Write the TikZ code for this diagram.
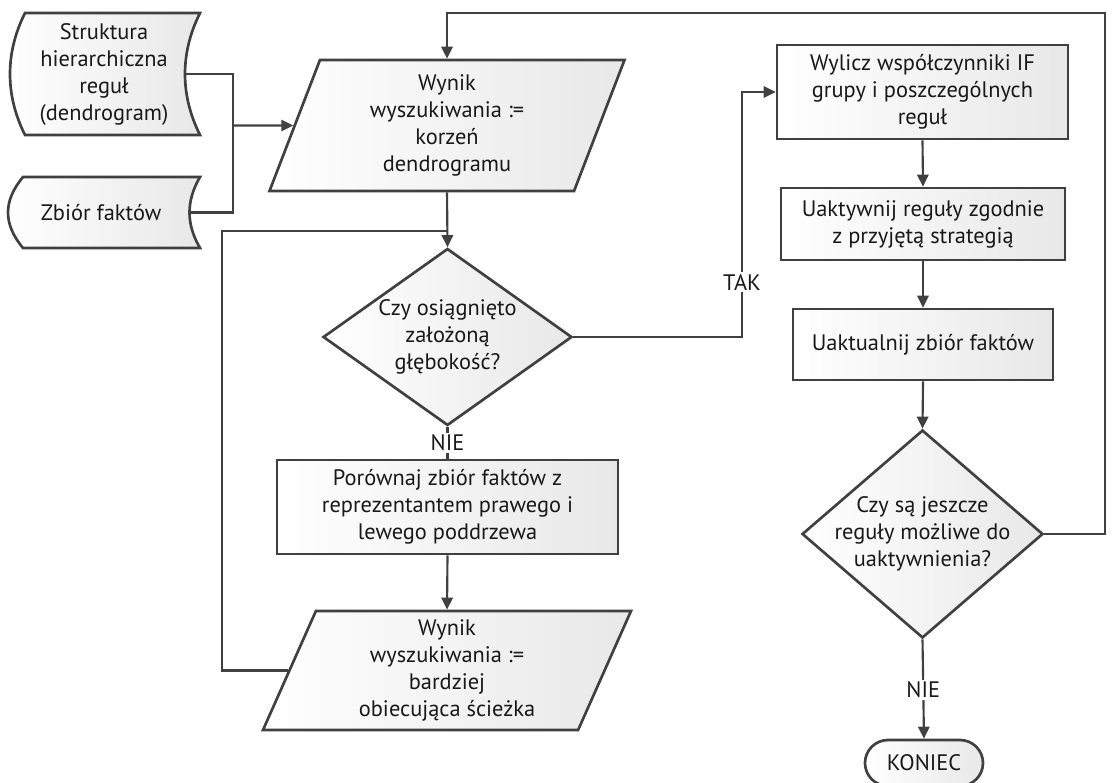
\documentclass[tikz,border=0pt]{standalone}
\usepackage{fontspec}
\setmainfont{PT Sans}
\usetikzlibrary{shapes.geometric,shapes.misc,arrows.meta,calc}

\begin{document}
\begin{tikzpicture}[x=0.75pt,y=-0.75pt,
  every node/.style={font=\fontsize{16.8}{20.25}\selectfont, align=center, text=black!90},
  box/.style={draw=black!75, line width=2pt, left color=white, right color=black!9, inner sep=0pt},
  line/.style={draw=black!75, line width=1.6pt},
  arrow/.style={line, -{Triangle[length=9pt,width=8.5pt]}},
  answer/.style={fill=white, inner sep=1.5pt}]
\useasboundingbox (0,0) rectangle (1113,782);
% stored data
\draw[box] (25,13) -- (200,13) .. controls (180,53) and (180,95) .. (200,135) -- (25,135) .. controls (5,95) and (5,53) .. (25,13) -- cycle;
\node (struktura) at (104,74) {Struktura\\hierarchiczna\\reguł\\(dendrogram)};
\draw[box] (23,177) -- (200,177) .. controls (186,201) and (186,224) .. (200,248) -- (23,248) .. controls (3,224) and (3,201) .. (23,177) -- cycle;
\node (fakty) at (101,212.5) {Zbiór faktów};
\coordinate (strukturaout) at (185,74);
\coordinate (faktyout) at (189.5,212.5);
\coordinate (zbieg) at (233,125.5);
% left column
\node[box, trapezium, trapezium left angle=63.6, trapezium right angle=116.4, trapezium stretches body,
  minimum width=266.25pt, minimum height=98.25pt] (korzen) at (447,125.5)
  {Wynik\\wyszukiwania :=\\korzeń\\dendrogramu};
\node[box, diamond, minimum width=186.75pt, minimum height=132.75pt] (glebokosc) at (447.5,337) {};
\node (glebokosctxt) at (447.5,337) {Czy osiągnięto\\założoną\\głębokość?};
\node[box, minimum width=255.75pt, minimum height=70.5pt] (porownaj) at (447.5,507)
  {Porównaj zbiór faktów z\\reprezentantem prawego i\\lewego poddrzewa};
\node[box, trapezium, trapezium left angle=62.5, trapezium right angle=117.5, trapezium stretches body,
  minimum width=276pt, minimum height=89.25pt] (sciezka) at (447,670.5)
  {Wynik\\wyszukiwania :=\\bardziej\\obiecująca ścieżka};
% right column
\node[box, minimum width=218.25pt, minimum height=70.5pt] (wylicz) at (922.5,92)
  {Wylicz współczynniki IF\\grupy i poszczególnych\\reguł};
\node[box, minimum width=213pt, minimum height=54pt] (uaktywnij) at (923,224)
  {Uaktywnij reguły zgodnie\\z przyjętą strategią};
\node[box, minimum width=195pt, minimum height=53.25pt] (uaktualnij) at (923,344.5)
  {Uaktualnij zbiór faktów};
\node[box, diamond, minimum width=180.75pt, minimum height=156pt] (jeszcze) at (922.5,534) {};
\node (jeszczetxt) at (922.5,534) {Czy są jeszcze\\reguły możliwe do\\uaktywnienia?};
\node[box, rounded rectangle, minimum width=88.5pt, minimum height=34.5pt] (koniec) at (924,763) {KONIEC};
% connectors
\draw[line] (strukturaout) -| (zbieg);
\draw[line] (faktyout) -| (zbieg);
\draw[arrow] (zbieg) -- (korzen.west);
\draw[arrow] (korzen.south) -- (glebokosc.north);
\coordinate (powrot) at (222,231);
\draw[line] (sciezka.west) -| (powrot) -- (powrot -| glebokosc.north);
\draw[line] (glebokosc.south) -- node[answer] {NIE} (porownaj.north);
\draw[arrow] (porownaj.south) -- (sciezka.north);
\coordinate (tak) at (742,337);
\draw[arrow] (glebokosc.east) -- (tak) |- node[answer, pos=0.112] {TAK} (wylicz.west);
\draw[arrow] (wylicz.south) -- (uaktywnij.north);
\draw[arrow] (uaktywnij.south) -- (uaktualnij.north);
\draw[arrow] (uaktualnij.south) -- (jeszcze.north);
\coordinate (naroznik) at (1105,13);
\draw[arrow] (jeszcze.east) -| (naroznik) -| (korzen.north);
\draw[arrow] (jeszcze.south) -- node[answer, pos=0.51] {NIE} (koniec.north);
\end{tikzpicture}
\end{document}
